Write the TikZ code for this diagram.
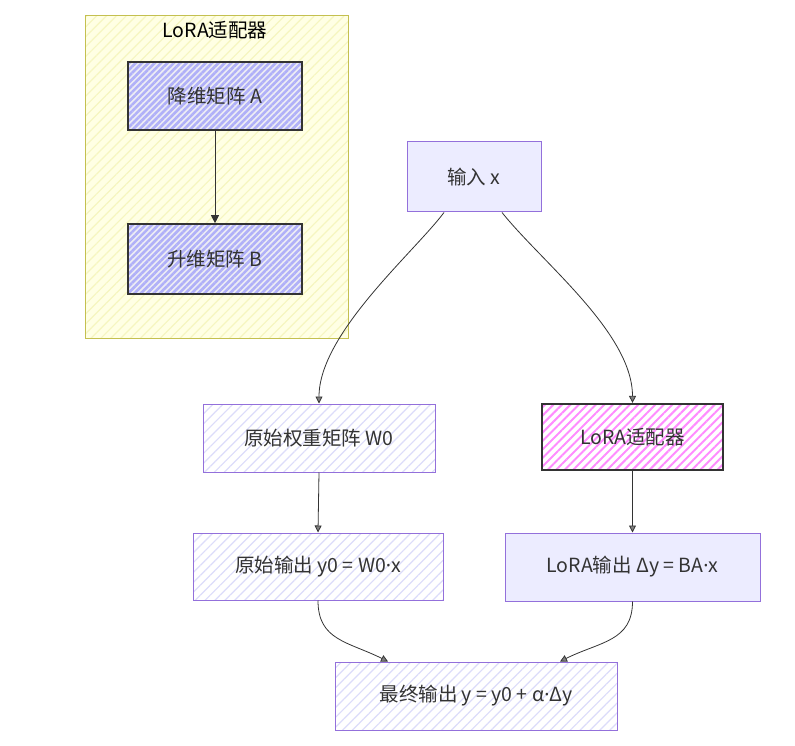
\documentclass[tikz,border=0pt]{standalone}
\usepackage{fontspec}
\setmainfont{Noto Sans CJK SC}
\newfontfamily\latfont{Noto Sans}
\newcommand{\md}{{\latfont ·}}
\usetikzlibrary{arrows.meta,patterns.meta}
\definecolor{ink}{HTML}{333333}
\definecolor{edge}{HTML}{9370DB}
\definecolor{lav}{HTML}{ECECFF}
\definecolor{lavline}{HTML}{DCDCFA}
\definecolor{clbg}{HTML}{FFFFE4}
\definecolor{clhatch}{HTML}{F6F6C0}
\definecolor{clline}{HTML}{C4C050}
\definecolor{bbbg}{HTML}{ECECF4}
\definecolor{bb}{HTML}{B0B0F8}
\definecolor{pk}{HTML}{FF8CFF}
\tikzset{t/.style={font=\fontsize{19.5}{20}\selectfont,text=ink}}
\tikzset{bx/.style={t,draw=edge,line width=1pt,inner sep=0pt}}
\tikzset{cl/.style={draw=clline,line width=1pt,preaction={fill=clbg},
  preaction={pattern={Lines[angle=45,distance=7pt,line width=1.2pt]},pattern color=clhatch}}}
\tikzset{mat/.style={t,draw=ink,line width=1.6pt,inner sep=0pt,preaction={fill=bbbg},
  preaction={pattern={Lines[angle=45,distance=4.5pt,line width=2.6pt]},pattern color=bb}}}
\tikzset{io/.style={bx,preaction={fill=lav}}}
\tikzset{hl/.style={bx,preaction={fill=white},
  preaction={pattern={Lines[angle=45,distance=7pt,line width=1.2pt]},pattern color=lavline}}}
\tikzset{ad/.style={t,draw=ink,line width=2.2pt,inner sep=0pt,
  preaction={pattern={Lines[angle=45,distance=6pt,line width=2pt]},pattern color=pk}}}
\tikzset{ar/.style={-{Triangle[length=7pt,width=7pt,fill=gray]},draw=ink,line width=0.8pt}}

\begin{document}
\begin{tikzpicture}[x=1pt,y=-1pt]
\useasboundingbox (0,0) rectangle (795,746);
\node[cl,minimum width=263pt,minimum height=322pt] (lora) at (216.5,177) {};
\node[t,text=black] (title) at (215,30) {LoRA适配器};
\node[mat,minimum width=174pt,minimum height=68pt] (A) at (215,96) {降维矩阵 A};
\node[mat,minimum width=174pt,minimum height=70pt] (B) at (215,259) {升维矩阵 B};
\draw[ar,-{Triangle[length=8pt,width=8pt]}] (A.south) -- (B.north);

\node[io,minimum width=134pt,minimum height=70pt] (in) at (474,177) {输入 x};
\node[hl,minimum width=232pt,minimum height=68pt] (w0) at (319,438) {原始权重矩阵 W0};
\node[ad,minimum width=181pt,minimum height=66pt] (ad) at (632.5,437) {LoRA适配器};
\node[hl,minimum width=250pt,minimum height=67pt] (y0) at (318,566.5) {原始输出 y0 = W0\md x};
\node[io,minimum width=255pt,minimum height=68pt] (dy) at (632.5,567) {LoRA输出 Δy = BA\md x};
\node[hl,minimum width=282pt,minimum height=68pt] (out) at (476,696) {最终输出 y = y0 + α\md Δy};

\draw[ar] ([xshift=-30pt]in.south) .. controls +(-30,40) and +(0,-70) .. (w0.north);
\draw[ar] ([xshift=28pt]in.south) .. controls +(40,50) and +(0,-70) .. (ad.north);
\draw[ar] (w0.south) -- (y0.north);
\draw[ar] (ad.south) -- (dy.north);
\draw[ar] (y0.south) .. controls +(0,40) and +(-40,-20) .. ([xshift=-88pt]out.north);
\draw[ar] (dy.south) .. controls +(0,40) and +(40,-20) .. ([xshift=84pt]out.north);
\end{tikzpicture}
\end{document}
